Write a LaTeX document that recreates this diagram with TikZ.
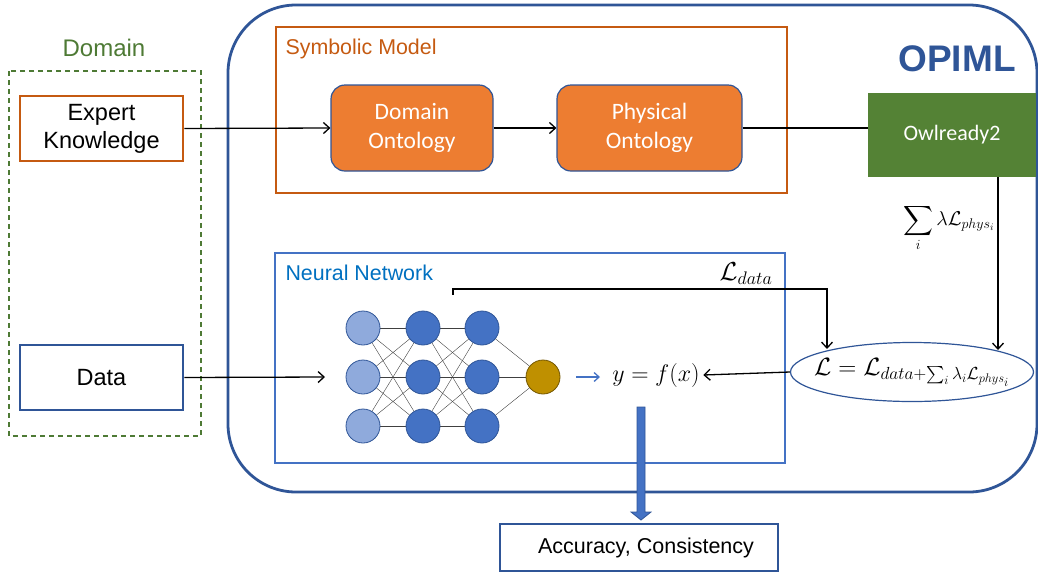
\RequirePackage{fix-cm}
\documentclass[tikz,border=0pt]{standalone}
\usepackage{exscale}
\usepackage{fontspec}
\setmainfont{Liberation Sans}
\newfontfamily\calib{Carlito}
\usetikzlibrary{arrows.meta,shapes.geometric}
\definecolor{dkblue}{HTML}{2F5597}
\definecolor{mblue}{HTML}{4472C4}
\definecolor{lblue}{HTML}{8FAADC}
\definecolor{tblue}{HTML}{0070C0}
\definecolor{orng}{HTML}{C55A11}
\definecolor{forng}{HTML}{ED7D31}
\definecolor{grn}{HTML}{548235}
\definecolor{dgrn}{HTML}{4E7A35}
\definecolor{gold}{HTML}{BF9000}
\newcommand{\fs}[2]{\fontsize{#1}{#2}\selectfont}
\tikzset{
  arr/.style={-{Straight Barb[length=6pt,width=11pt,line width=1.3pt]},line width=1.3pt},
  conn/.style={line width=1.3pt},
  inbox/.style={draw,line width=2.5pt,fill=white,minimum width=163pt,minimum height=65pt,align=center,font=\fs{23.5}{28}},
  onto/.style={draw=dkblue,line width=1.2pt,fill=forng,rounded corners=14pt,text=white,align=center,font=\calib\fs{23.5}{29},minimum height=86pt},
  neuron/.style={circle,draw=dkblue,line width=0.8pt,minimum size=34pt,inner sep=0pt},
  syn/.style={line width=0.4pt,black!75},
}
\begin{document}
\begin{tikzpicture}[x=1pt,y=-1pt]
\useasboundingbox (0,0) rectangle (1038,574);
% big OPIML container
\draw[dkblue,line width=2.8pt,rounded corners=68pt] (228,5) rectangle (1037,492);
\node[text=dkblue,font=\bfseries\fs{37}{44}] (opiml) at (957,59) {OPIML};
% Domain
\draw[dgrn,line width=1.2pt,dash pattern=on 5pt off 4pt] (9,71) rectangle (201,436);
\node[text=dgrn,font=\fs{24}{29}] (domlbl) at (104,48) {Domain};
\node[inbox,draw=orng] (ek) at (101.5,128.5) {Expert\\Knowledge};
\node[inbox,draw=dkblue] (data) at (101.5,377.5) {Data};
% Symbolic Model
\draw[orng,line width=1.8pt] (276,27) rectangle (787,193);
\node[anchor=west,text=orng,font=\fs{21.4}{26}] (symlbl) at (282,49) {Symbolic Model};
\node[onto,minimum width=162pt] (do) at (412,128) {Domain\\Ontology};
\node[onto,minimum width=185pt] (po) at (649.5,128) {Physical\\Ontology};
\node[fill=grn,text=white,font=\calib\fs{22}{26},minimum width=168pt,minimum height=84pt] (owl) at (952,135) {Owlready2};
% Neural network
\draw[mblue,line width=1.8pt] (275,253) rectangle (785,463);
\node[anchor=west,text=tblue,font=\fs{21.4}{26}] (nnlbl) at (282,273) {Neural Network};
\foreach \i in {1,2,3}{
  \foreach \j in {1,2,3}{
    \draw[syn] (363,{279+49*\i}) -- (423,{279+49*\j});
    \draw[syn] (423,{279+49*\i}) -- (482,{279+49*\j});
  }
  \draw[syn] (482,{279+49*\i}) -- (543,377);
}
\foreach \y [count=\i] in {328,377,426}{
  \node[neuron,fill=lblue] (a\i) at (363,\y) {};
  \node[neuron,fill=mblue] (b\i) at (423,\y) {};
  \node[neuron,fill=mblue] (c\i) at (482,\y) {};
}
\node[neuron,fill=gold,draw=gold!60!black] (o) at (543,377) {};
\node[font=\fs{24}{29}] (y) at (656,375) {$y=f(x)$};
\draw[-{Straight Barb[length=5pt,width=9pt,line width=1.3pt]},mblue,line width=1.3pt] (o.east) ++(16,0) coordinate (bs) -- (600,377);
% ellipse
\node[ellipse,draw=dkblue,line width=1.2pt,minimum width=243pt,minimum height=59pt,inner sep=0pt,
  label={[font=\fs{25}{30}]center:{$\mathcal{L}=\mathcal{L}_{data+\sum_i\lambda_i\mathcal{L}_{phys_i}}$}}] (ell) at (912,372) {};
% connectors
\draw[arr] (ek.east) -- (do.west);
\draw[arr] (do.east) -- (po.west);
\draw[conn] (po.east) -- (owl.west |- po.east);
\draw[arr] (data.east) -- (325,377) coordinate (nnin);
\coordinate (e1) at (998,350);
\coordinate (e2) at (827,349);
\draw[arr] (owl.south -| e1) -- (e1);
\node[anchor=east,font=\fs{20}{24}] (sumlbl) at (998,228) {$\displaystyle\sum_i\lambda\mathcal{L}_{phys_i}$};
\coordinate (ld) at (453,294);
\draw[conn,line cap=rect] (ld) -- (453,289) -- (827,289) coordinate (lc);
\draw[arr] (lc) -- (e2);
\node[font=\fs{26}{31}] (ldlbl) at (746,274) {$\mathcal{L}_{data}$};
\draw[arr] (ell.west) -- (y.east);
% output block arrow
\draw[fill=mblue,draw=dkblue,line width=0.8pt] (637,407) -- (645,407) -- (645,512) -- (651,512) -- (641,520) -- (631,512) -- (637,512) -- cycle;
\node[draw=dkblue,line width=1.8pt,minimum width=278pt,minimum height=47pt,font=\fs{21.5}{26}] (acc) at (639,547.5) {\hspace{14pt}Accuracy, Consistency};
\end{tikzpicture}
\end{document}
